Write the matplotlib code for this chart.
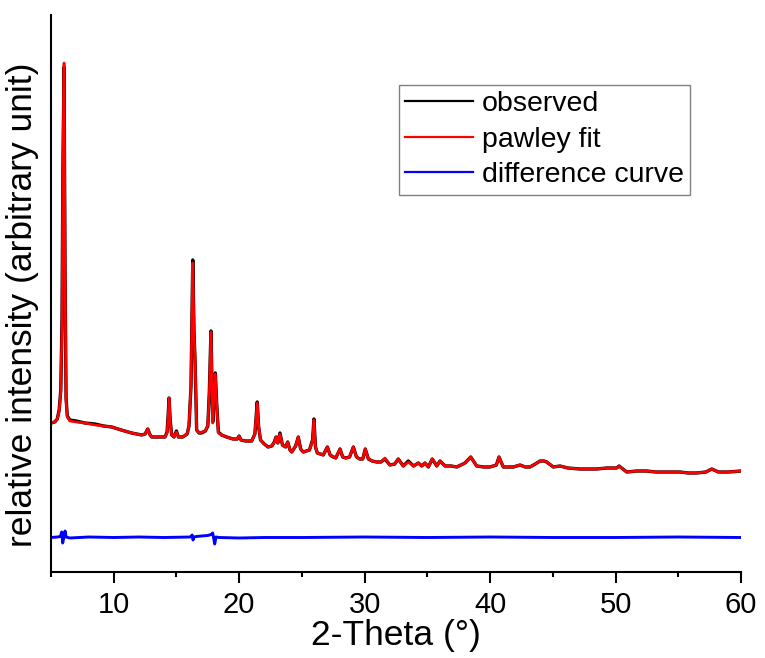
import matplotlib
matplotlib.use("Agg")
import matplotlib.pyplot as plt
from matplotlib.ticker import MultipleLocator

plt.rcParams['font.family'] = ['Liberation Sans', 'DejaVu Sans']

# %% data (intensity in arbitrary units)

two_theta = [5.00, 5.30, 5.50, 5.65, 5.78, 5.88, 5.95, 6.04, 6.12, 6.20, 6.30, 6.50,
             7.00, 7.70, 8.50, 9.20, 9.84, 10.60, 11.43, 12.23, 12.50, 12.71, 12.90, 13.03,
             13.60, 14.09, 14.25, 14.33, 14.41, 14.50, 14.62, 14.80, 15.00, 15.15, 15.50, 15.85,
             16.00, 16.16, 16.30, 16.40, 16.48, 16.61, 16.80, 17.00, 17.30, 17.50, 17.62, 17.75,
             17.83, 17.89, 17.98, 18.10, 18.20, 18.34, 18.60, 19.00, 19.50, 19.85, 19.99, 20.15,
             20.50, 21.00, 21.25, 21.35, 21.44, 21.55, 21.70, 22.00, 22.30, 22.60, 22.80, 22.94,
             23.08, 23.25, 23.45, 23.70, 23.87, 24.05, 24.19, 24.50, 24.71, 24.90, 25.11, 25.60,
             25.85, 25.96, 26.08, 26.23, 26.70, 27.03, 27.25, 27.50, 27.70, 28.04, 28.25, 28.50,
             28.80, 29.10, 29.35, 29.60, 29.85, 30.05, 30.30, 30.60, 30.96, 31.30, 31.62, 32.02,
             32.40, 32.68, 33.08, 33.48, 33.90, 34.28, 34.55, 34.81, 35.08, 35.39, 35.75, 36.01,
             36.41, 36.90, 37.34, 38.00, 38.46, 38.93, 39.50, 39.99, 40.50, 40.71, 41.05, 41.50,
             41.85, 42.39, 42.80, 43.18, 43.60, 43.98, 44.30, 44.51, 45.04, 45.57, 46.20, 47.17,
             48.00, 48.50, 49.30, 50.09, 50.28, 50.89, 51.70, 52.48, 53.20, 53.81, 54.50, 55.14,
             55.80, 56.47, 57.20, 57.67, 58.20, 59.00, 60.00]

observed = [149, 150, 153, 162, 182, 255, 405, 505, 300, 174, 156, 152,
            151, 149, 148, 146, 145, 142, 139, 137, 138, 143, 137, 135,
            135, 135, 140, 155, 174, 152, 137, 135, 141, 135, 135, 138,
            146, 186, 312, 240, 212, 142, 139, 139, 141, 146, 180, 241,
            190, 150, 170, 199, 170, 140, 137, 135, 133, 133, 136, 132,
            131, 131, 138, 155, 170, 145, 132, 128, 125, 126, 130, 135,
            129, 139, 127, 125, 130, 122, 120, 126, 135, 123, 120, 122,
            132, 153, 125, 119, 117, 125, 117, 115, 114, 123, 115, 114,
            115, 125, 115, 113, 113, 123, 113, 111, 110, 110, 113, 107,
            108, 113, 106, 111, 106, 109, 106, 109, 105, 113, 106, 111,
            106, 106, 105, 109, 115, 106, 105, 105, 107, 115, 105, 105,
            105, 107, 105, 105, 108, 111, 111, 110, 105, 106, 104, 103,
            103, 103, 104, 104, 106, 100, 101, 101, 100, 100, 100, 100,
            99, 99, 100, 103, 100, 100, 101]

pawley_fit = [149, 150, 153, 161, 180, 250, 410, 509, 302, 172, 155, 151,
              150, 149, 147, 146, 145, 142, 139, 137, 138, 143, 137, 135,
              135, 135, 139, 152, 174, 150, 137, 135, 140, 135, 135, 138,
              146, 188, 309, 240, 214, 142, 139, 140, 141, 147, 178, 240,
              192, 149, 172, 198, 170, 139, 137, 135, 133, 133, 136, 132,
              131, 131, 138, 154, 169, 146, 132, 128, 125, 126, 130, 135,
              129, 138, 127, 125, 130, 122, 120, 126, 135, 123, 120, 122,
              131, 152, 125, 119, 117, 125, 117, 115, 114, 123, 115, 114,
              115, 125, 115, 113, 113, 123, 113, 111, 110, 110, 114, 107,
              108, 113, 106, 110, 106, 109, 106, 109, 105, 113, 106, 111,
              106, 106, 105, 109, 115, 106, 105, 105, 107, 115, 105, 105,
              105, 107, 105, 105, 108, 111, 111, 110, 105, 106, 104, 103,
              103, 103, 104, 104, 106, 100, 101, 101, 100, 100, 100, 100,
              99, 99, 100, 103, 100, 100, 101]

diff_theta = [5.0, 5.5, 5.75, 5.85, 5.93, 6.05, 6.12, 6.2, 6.5, 8, 10, 12, 14,
              16.1, 16.25, 16.32, 16.4, 16.6, 17.0, 17.5, 17.75, 17.89, 18.05, 18.15, 18.4,
              20, 22, 25, 30, 35, 40, 45, 50, 55, 60]
difference = [34.5, 35, 35.5, 40, 29, 36, 41, 35, 34, 35, 34.5, 35, 34.5,
              35, 37, 32, 35, 35.5, 36, 36.5, 37.5, 39, 28, 35, 34.5,
              34, 34.5, 34.5, 35, 34.5, 35, 34.5, 34.5, 35, 34.5]

x_ticks = [10, 20, 30, 40, 50, 60]

# %% plot

fig = plt.figure(figsize=(7.65, 6.58), dpi=100)
ax = fig.add_axes([51/765, 1 - 572/658, 690/765, 557/658])

ax.plot(two_theta, observed, color='black', lw=2.4, label='observed')
ax.plot(two_theta, pawley_fit, color='red', lw=1.9, label='pawley fit')
ax.plot(diff_theta, difference, color='blue', lw=2.1, label='difference curve')

ax.set_xlim(5, 60)
ax.set_ylim(0, 557)
ax.set_xticks(x_ticks)
ax.xaxis.set_minor_locator(MultipleLocator(5))
ax.set_yticks([])

for side in ['top', 'right']:
    ax.spines[side].set_visible(False)
for side in ['left', 'bottom']:
    ax.spines[side].set_linewidth(1.5)

ax.tick_params(axis='x', which='major', direction='out', length=8, width=1.5, labelsize=21, pad=6)
ax.tick_params(axis='x', which='minor', direction='out', length=3.8, width=1.5)

ax.set_xlabel('2-Theta (°)', fontsize=25.5)
ax.xaxis.set_label_coords(0.5, -0.084)
ax.set_ylabel('relative intensity (arbitrary unit)', fontsize=25.5)
ax.yaxis.set_label_coords(-0.018, 0.48)

leg = ax.legend(loc='upper left', bbox_to_anchor=(0.504, 0.874), borderaxespad=0,
                fontsize=20.5, handlelength=2.4, handletextpad=0.3, labelspacing=0.33,
                borderpad=0.22, fancybox=False, framealpha=1)
leg.get_frame().set_edgecolor('#808080')
leg.get_frame().set_linewidth(1.0)
for line in leg.get_lines():
    line.set_linewidth(1.6)

fig.savefig('out.png', dpi=100)
